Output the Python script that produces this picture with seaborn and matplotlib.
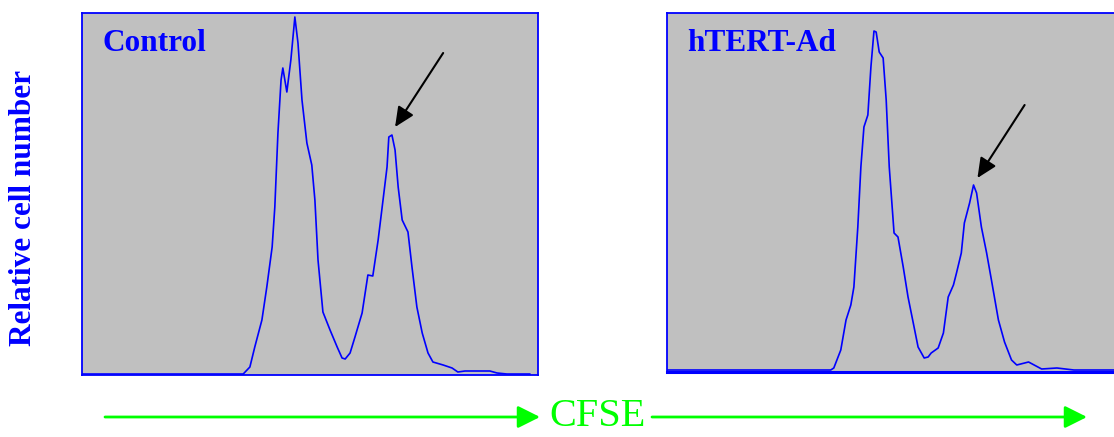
import matplotlib
matplotlib.use("Agg")
import matplotlib.pyplot as plt
import seaborn as sns
import pandas as pd

# ---- data (CFSE channel vs relative cell count) ----
panel_titles = ["Control", "hTERT-Ad"]
ylabel_text = "Relative cell number"
xlabel_text = "CFSE"

control_ch = [0, 362, 377, 388, 404, 415, 427, 433, 440, 447, 451, 460, 469, 478, 485, 494,
              505, 516, 523, 530, 541, 557, 573, 584, 591, 602, 613, 629, 642, 653, 665, 676,
              685, 689, 696, 703, 710, 719, 732, 741, 752, 764, 777, 788, 811, 831, 844, 860,
              916, 932, 954, 1006]
control_count = [0, 0, 3.5, 13.5, 27, 43.5, 63.5, 83.5, 120.5, 147, 153, 141, 157, 178.5, 165.5, 137,
                 115.5, 104.5, 87, 57, 31, 22, 13.5, 8, 7.5, 10.5, 18.5, 30.5, 49.5, 49, 67, 87,
                 103.5, 118.5, 119.5, 112, 93.5, 77, 71, 53.5, 33.5, 20.5, 10.5, 6, 4.5, 3, 1, 1.5,
                 1.5, 0.5, 0, 0]

htert_ch = [0, 375, 382, 398, 410, 421, 428, 437, 444, 451, 460, 467, 474, 479, 486, 495,
            502, 509, 520, 529, 541, 552, 564, 575, 589, 598, 605, 621, 633, 644, 656, 663,
            674, 681, 693, 702, 709, 720, 732, 743, 759, 773, 789, 801, 828, 858, 893, 932, 1024]
htert_count = [0, 0, 1, 10, 25, 32.5, 41.5, 71.5, 101.5, 121.5, 127.5, 151.5, 169.5, 169, 159, 156,
               135, 101.5, 68.5, 66.5, 51.5, 36.5, 23.5, 11.5, 6, 6.5, 8.5, 11, 18.5, 36.5, 42.5, 48.5,
               58.5, 73.5, 83.5, 92.5, 88.5, 71.5, 58.5, 45, 25, 14, 5, 2.5, 4, 0.5, 1, 0, 0]

# arrow annotations pointing at the second-generation peak: (tail, tip)
control_arrow = ((811, 160.5), (703, 123.5))
htert_arrow = ((819, 132.5), (711, 96))

# ---- styling ----
sns.set_style("white")
BLUE = "#0000ff"
GRAY = "#c0c0c0"
GREEN = "#00ff00"
SERIF = ["Liberation Serif", "DejaVu Serif"]

W, H = 1114, 437
fig = plt.figure(figsize=(W / 100, H / 100), dpi=100)


def frac(x0, y0, x1, y1):
    return [x0 / W, 1 - y1 / H, (x1 - x0) / W, (y1 - y0) / H]


ax1 = fig.add_axes(frac(82, 13, 538, 375))
ax2 = fig.add_axes(frac(667, 13, 1114 + 1, 372))

panels = [
    (ax1, control_ch, control_count, panel_titles[0], control_arrow, (0, 1024), (-0.5, 180.5)),
    (ax2, htert_ch, htert_count, panel_titles[1], htert_arrow, (0, 1026), (-1, 178.5)),
]

for ax, ch, cnt, title, arrow, xlim, ylim in panels:
    df = pd.DataFrame({"ch": ch, "count": cnt})
    sns.lineplot(data=df, x="ch", y="count", ax=ax, color=BLUE, linewidth=1.2,
                 sort=False, estimator=None)
    ax.set_facecolor(GRAY)
    ax.set_xlim(*xlim)
    ax.set_ylim(*ylim)
    ax.set_xticks([])
    ax.set_yticks([])
    ax.set_xlabel("")
    ax.set_ylabel("")
    for s in ax.spines.values():
        s.set_color(BLUE)
        s.set_linewidth(1.3)
    ax.text(0.045, 0.915, title, transform=ax.transAxes, fontsize=22.5, fontweight="bold",
            color=BLUE, family=SERIF, ha="left", va="center")
    (tx, ty), (hx, hy) = arrow
    ax.annotate("", xy=(hx, hy), xytext=(tx, ty),
                arrowprops=dict(arrowstyle="-|>,head_length=1.2,head_width=0.55",
                                color="black", lw=1.5, shrinkA=0, shrinkB=0))

ax2.spines["right"].set_visible(False)
ax2.spines["bottom"].set_linewidth(2.2)

# y label
fig.text(24 / W, 1 - 208 / H, ylabel_text, rotation=90, fontsize=22.5, fontweight="bold",
         color=BLUE, family=SERIF, ha="center", va="center")

# CFSE axis label with green arrows
fig.text(598 / W, 1 - 416 / H, xlabel_text, fontsize=29, color=GREEN, family=SERIF,
         ha="center", va="center")
ya = 1 - 417 / H
for x0, x1 in [(105, 540), (652, 1087)]:
    fig.add_artist(matplotlib.patches.FancyArrowPatch(
        (x0 / W, ya), (x1 / W, ya), transform=fig.transFigure,
        arrowstyle="-|>,head_length=0.9,head_width=0.45", color=GREEN, lw=2.0,
        mutation_scale=15, shrinkA=0, shrinkB=0))

fig.savefig("out.png", dpi=100)
